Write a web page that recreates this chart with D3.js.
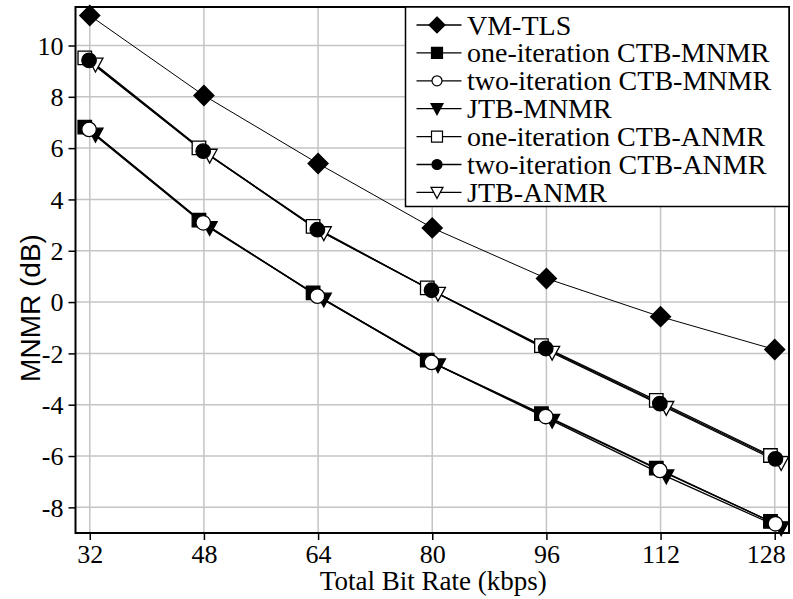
<!DOCTYPE html>
<html>
<head>
<meta charset="utf-8">
<script src="https://cdn.jsdelivr.net/npm/d3@7"></script>
<style>
  body { margin: 0; background: #fff; }
  svg { display: block; }
</style>
</head>
<body>
<script>
// values
var rateVM  = [32, 48, 64, 80, 96, 112, 128];
var rateSq  = [31.3, 47.3, 63.3, 79.3, 95.3, 111.4, 127.4];
var rateCi  = [31.9, 47.9, 63.9, 79.9, 95.9, 111.9, 128.1];
var rateTri = [32.8, 48.8, 64.8, 80.8, 96.8, 112.8, 128.9];

var vmTls     = [11.17, 8.05, 5.40, 2.89, 0.92, -0.57, -1.85];
var oneCtbMn  = [6.82, 3.19, 0.36, -2.26, -4.35, -6.47, -8.55];
var twoCtbMn  = [6.73, 3.09, 0.23, -2.35, -4.46, -6.56, -8.64];
var jtbMn     = [6.53, 2.89, 0.10, -2.46, -4.62, -6.79, -8.81];
var oneCtbAn  = [9.52, 6.01, 2.95, 0.55, -1.70, -3.83, -5.98];
var twoCtbAn  = [9.42, 5.88, 2.82, 0.46, -1.81, -3.96, -6.11];
var jtbAn     = [9.26, 5.71, 2.69, 0.33, -1.97, -4.12, -6.27];

var xTicks = [32, 48, 64, 80, 96, 112, 128];
var yTicks = [-8, -6, -4, -2, 0, 2, 4, 6, 8, 10];

var names = ["VM-TLS", "one-iteration CTB-MNMR", "two-iteration CTB-MNMR", "JTB-MNMR",
             "one-iteration CTB-ANMR", "two-iteration CTB-ANMR", "JTB-ANMR"];

var W = 793, H = 599;
var L = 75.5, R = 789, T = 7, B = 533;
var serif = "'Liberation Serif', 'Times New Roman', serif";

var svg = d3.select("body").append("svg").attr("width", W).attr("height", H);

var x = d3.scaleLinear().domain([30, 130]).range([L, R]);
var y = d3.scaleLinear().domain([-9, 11.5]).range([B, T]);

// series: kind of marker, filled or not
var series = [
  {name: names[0], xs: rateVM,  ys: vmTls,    mark: "diamond", fill: true,  lw: 1},
  {name: names[1], xs: rateSq,  ys: oneCtbMn, mark: "square",  fill: true,  lw: 1.3},
  {name: names[2], xs: rateCi,  ys: twoCtbMn, mark: "circle",  fill: false, lw: 1.3},
  {name: names[3], xs: rateTri, ys: jtbMn,    mark: "tri",     fill: true,  lw: 1.3},
  {name: names[4], xs: rateSq,  ys: oneCtbAn, mark: "square",  fill: false, lw: 1.3},
  {name: names[5], xs: rateCi,  ys: twoCtbAn, mark: "circle",  fill: true,  lw: 1.3},
  {name: names[6], xs: rateTri, ys: jtbAn,    mark: "tri",     fill: false, lw: 1.3}
];

function markPath(kind, s) {
  // s = nominal size in px
  if (kind == "diamond") {
    var h = s / 2;
    return "M0," + (-h) + "L" + h + ",0L0," + h + "L" + (-h) + ",0Z";
  }
  if (kind == "square") {
    var h = s / 2;
    return "M" + (-h) + "," + (-h) + "H" + h + "V" + h + "H" + (-h) + "Z";
  }
  if (kind == "circle") {
    var r = s / 2;
    return "M" + r + ",0A" + r + "," + r + " 0 1,1 " + (-r) + ",0A" + r + "," + r + " 0 1,1 " + r + ",0Z";
  }
  // downward triangle
  var w = s / 2;
  return "M" + (-w) + "," + (-s * 0.42) + "L" + w + "," + (-s * 0.42) + "L0," + (s * 0.5) + "Z";
}
var markSize = {diamond: 20, square: 13.5, circle: 14.5, tri: 15};
var legSize = {diamond: 16, square: 11, circle: 10, tri: 12};

// grid
svg.append("g").selectAll("line").data(xTicks).enter().append("line")
  .attr("x1", d => x(d)).attr("x2", d => x(d))
  .attr("y1", T).attr("y2", B)
  .attr("stroke", "#c4c4c4").attr("stroke-width", 1.5);
svg.append("g").selectAll("line").data(yTicks).enter().append("line")
  .attr("x1", L).attr("x2", R)
  .attr("y1", d => y(d)).attr("y2", d => y(d))
  .attr("stroke", "#c4c4c4").attr("stroke-width", 1.5);

// axes
var xAxis = svg.append("g").attr("transform", "translate(0," + B + ")")
  .call(d3.axisBottom(x).tickValues(xTicks).tickSize(7).tickSizeOuter(0).tickPadding(5)
    .tickFormat(d => String(d)));
var yAxis = svg.append("g").attr("transform", "translate(" + L + ",0)")
  .call(d3.axisLeft(y).tickValues(yTicks).tickSize(7).tickSizeOuter(0).tickPadding(5)
    .tickFormat(d => String(d)));
[xAxis, yAxis].forEach(function (g) {
  g.select(".domain").remove();
  g.selectAll(".tick line").attr("stroke", "#000").attr("stroke-width", 1.5);
  g.selectAll(".tick text").attr("fill", "#000")
    .style("font-family", serif)
    .style("font-size", "26px");
});
yAxis.selectAll(".tick text").attr("dy", "0.34em");
// last x label is pulled in so it stays inside the picture
xAxis.selectAll(".tick text").filter(d => d == 128).attr("x", -9);

// series lines
var line = d3.line().x(d => x(d[0])).y(d => y(d[1]));
series.forEach(function (s) {
  var pts = s.xs.map((v, i) => [v, s.ys[i]]);
  svg.append("path").attr("d", line(pts))
    .attr("fill", "none").attr("stroke", "#000").attr("stroke-width", s.lw);
});

// markers: triangles under squares under circles
var order = [0, 3, 6, 1, 4, 2, 5];
order.forEach(function (k) {
  var s = series[k];
  svg.append("g").selectAll("path").data(s.xs.map((v, i) => [v, s.ys[i]])).enter()
    .append("path")
    .attr("transform", d => "translate(" + x(d[0]) + "," + y(d[1]) + ")")
    .attr("d", markPath(s.mark, markSize[s.mark]))
    .attr("fill", s.fill ? "#000" : "#fff")
    .attr("stroke", "#000").attr("stroke-width", 1.3);
});

// frame
svg.append("rect").attr("x", L).attr("y", T).attr("width", R - L).attr("height", B - T)
  .attr("fill", "none").attr("stroke", "#000").attr("stroke-width", 2);

// legend
var lg = svg.append("g");
lg.append("rect").attr("x", 405.5).attr("y", T).attr("width", R - 405.5).attr("height", 199.5)
  .attr("fill", "#fff").attr("stroke", "#000").attr("stroke-width", 1.5);
series.forEach(function (s, i) {
  var cy = 25 + i * 27.9;
  lg.append("line").attr("x1", 416.5).attr("x2", 461.5).attr("y1", cy).attr("y2", cy)
    .attr("stroke", "#000").attr("stroke-width", 1.3);
  lg.append("path").attr("transform", "translate(437," + cy + ")")
    .attr("d", markPath(s.mark, legSize[s.mark]))
    .attr("fill", s.fill ? "#000" : "#fff")
    .attr("stroke", "#000").attr("stroke-width", 1.2);
  lg.append("text").attr("x", 467).attr("y", cy).attr("dy", "0.34em")
    .style("font-family", serif)
    .style("font-size", "28px")
    .text(s.name);
});

// axis titles
svg.append("text").attr("x", (L + R) / 2 + 1).attr("y", 590)
  .attr("text-anchor", "middle")
  .style("font-family", serif)
  .style("font-size", "27px")
  .text("Total Bit Rate (kbps)");
svg.append("text").attr("transform", "translate(40,308) rotate(-90)")
  .attr("text-anchor", "middle")
  .style("font-family", "'Liberation Sans', Arial, sans-serif")
  .style("font-size", "28px")
  .text("MNMR (dB)");
</script>
</body>
</html>
